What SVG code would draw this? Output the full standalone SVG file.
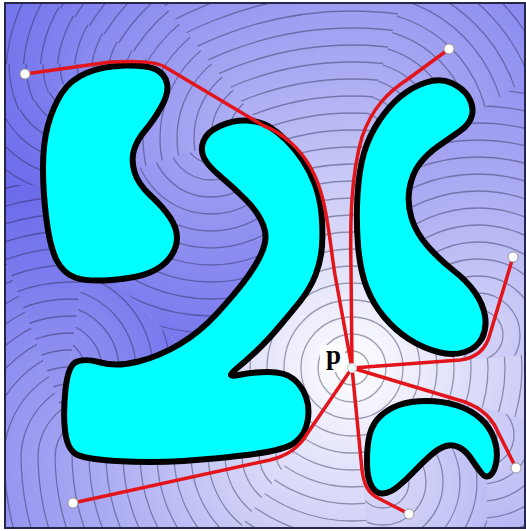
<svg xmlns="http://www.w3.org/2000/svg" width="526" height="531" viewBox="0 0 526 531">
<style>
.ct circle{fill:none;stroke:#24244a;stroke-opacity:.42;stroke-width:1.3}
.ob{fill:#00ffff;stroke:#000;stroke-width:6;stroke-linejoin:round}
.rd{fill:none;stroke:#e3151b;stroke-width:3.5;stroke-linecap:round;stroke-linejoin:round}
.ep{fill:#fff;stroke:#9a9a9a;stroke-width:1}
.lbl{font-family:"Liberation Serif","Times New Roman",serif;font-weight:bold;font-size:27px;fill:#000}
</style>
<defs>
<clipPath id="pic"><rect x="5" y="3" width="520" height="525"/></clipPath>
<clipPath id="cA"><path d="M263,128 L160,0 L46,0 L158,66 L140,90 L125,172 L205,148 Z"/></clipPath>
<clipPath id="cTk"><path d="M46,0 L158,66 L140,64 L0,64 L0,0 Z"/></clipPath>
<clipPath id="cK1"><path d="M0,64 L102,64 L60,86 L0,121 Z"/></clipPath>
<clipPath id="cK3"><path d="M0,121 L60,86 L44,140 L44,185 L0,185 Z"/></clipPath>
<clipPath id="cKn"><path d="M205,148 L125,172 L110,270 L122,290 L140,305 L163,330 L180,345 L195,365 L215,345 L250,300 L280,250 L270,170 L230,140 Z"/></clipPath>
<clipPath id="cFLa"><path d="M0,458 L90,457 L70,440 L63,413 L0,246 Z"/></clipPath>
<clipPath id="cFLb"><path d="M0,246 L63,413 L70,364 L82,280 L44,185 L0,185 Z"/></clipPath>
<clipPath id="cFLc"><path d="M82,280 L70,364 L120,378 L195,365 L180,345 L163,330 L140,305 L122,290 L110,270 Z"/></clipPath>
<clipPath id="cF1"><path d="M307,434 L238,531 L0,531 L0,458 L90,457 L200,452 L285,445 Z"/></clipPath>
<clipPath id="cCm"><path d="M365,125 L402,0 L526,0 L526,80 L462,122 L420,100 Z"/></clipPath>
<clipPath id="cCb"><path d="M460,360 L526,355 L526,80 L462,122 L420,140 L400,190 L405,230 L440,270 L478,300 L475,345 Z"/></clipPath>
<clipPath id="cBr"><path d="M455,399 L526,420 L526,531 L487,531 L487,478 L485,440 Z"/></clipPath>
<clipPath id="cBl"><path d="M362,470 L368,531 L487,531 L487,478 L450,440 L400,470 Z"/></clipPath>
<radialGradient id="gP" gradientUnits="userSpaceOnUse" cx="352" cy="368" r="700"><stop offset="0" stop-color="#ffffff"/><stop offset=".057" stop-color="#f4f4fd"/><stop offset=".143" stop-color="#e2e2fa"/><stop offset=".286" stop-color="#c6c6f6"/><stop offset=".429" stop-color="#aaaaf3"/><stop offset=".571" stop-color="#9494f1"/><stop offset=".714" stop-color="#7c7cee"/><stop offset=".857" stop-color="#6a6aeb"/><stop offset="1" stop-color="#6060e8"/></radialGradient>
<radialGradient id="gA" gradientUnits="userSpaceOnUse" cx="274" cy="138" r="457"><stop offset="0" stop-color="#babaf5"/><stop offset=".125" stop-color="#aaaaf3"/><stop offset=".344" stop-color="#9494f1"/><stop offset=".562" stop-color="#7c7cee"/><stop offset=".781" stop-color="#6a6aeb"/><stop offset="1" stop-color="#6060e8"/></radialGradient>
<radialGradient id="gTk" gradientUnits="userSpaceOnUse" cx="175" cy="76" r="342"><stop offset="0" stop-color="#9d9df2"/><stop offset=".123" stop-color="#9494f1"/><stop offset=".415" stop-color="#7c7cee"/><stop offset=".708" stop-color="#6a6aeb"/><stop offset="1" stop-color="#6060e8"/></radialGradient>
<radialGradient id="gK1" gradientUnits="userSpaceOnUse" cx="120" cy="64" r="284"><stop offset="0" stop-color="#9090f0"/><stop offset=".296" stop-color="#7c7cee"/><stop offset=".648" stop-color="#6a6aeb"/><stop offset="1" stop-color="#6060e8"/></radialGradient>
<radialGradient id="gK3" gradientUnits="userSpaceOnUse" cx="77" cy="78" r="238"><stop offset="0" stop-color="#8585ef"/><stop offset=".16" stop-color="#7c7cee"/><stop offset=".58" stop-color="#6a6aeb"/><stop offset="1" stop-color="#6060e8"/></radialGradient>
<radialGradient id="gKn" gradientUnits="userSpaceOnUse" cx="211" cy="137" r="386"><stop offset="0" stop-color="#a7a7f3"/><stop offset=".223" stop-color="#9494f1"/><stop offset=".482" stop-color="#7c7cee"/><stop offset=".741" stop-color="#6a6aeb"/><stop offset="1" stop-color="#6060e8"/></radialGradient>
<radialGradient id="gFLa" gradientUnits="userSpaceOnUse" cx="100" cy="458" r="405"><stop offset="0" stop-color="#ababf3"/><stop offset=".012" stop-color="#aaaaf3"/><stop offset=".259" stop-color="#9494f1"/><stop offset=".506" stop-color="#7c7cee"/><stop offset=".753" stop-color="#6a6aeb"/><stop offset="1" stop-color="#6060e8"/></radialGradient>
<radialGradient id="gFLb" gradientUnits="userSpaceOnUse" cx="70" cy="432" r="357"><stop offset="0" stop-color="#a0a0f2"/><stop offset=".16" stop-color="#9494f1"/><stop offset=".44" stop-color="#7c7cee"/><stop offset=".72" stop-color="#6a6aeb"/><stop offset="1" stop-color="#6060e8"/></radialGradient>
<radialGradient id="gFLc" gradientUnits="userSpaceOnUse" cx="54" cy="370" r="306"><stop offset="0" stop-color="#9595f1"/><stop offset=".02" stop-color="#9494f1"/><stop offset=".346" stop-color="#7c7cee"/><stop offset=".673" stop-color="#6a6aeb"/><stop offset="1" stop-color="#6060e8"/></radialGradient>
<radialGradient id="gF1" gradientUnits="userSpaceOnUse" cx="300" cy="454" r="605"><stop offset="0" stop-color="#e3e3fa"/><stop offset=".008" stop-color="#e2e2fa"/><stop offset=".174" stop-color="#c6c6f6"/><stop offset=".339" stop-color="#aaaaf3"/><stop offset=".504" stop-color="#9494f1"/><stop offset=".669" stop-color="#7c7cee"/><stop offset=".835" stop-color="#6a6aeb"/><stop offset="1" stop-color="#6060e8"/></radialGradient>
<radialGradient id="gCm" gradientUnits="userSpaceOnUse" cx="361" cy="139" r="471"><stop offset="0" stop-color="#bebef5"/><stop offset=".151" stop-color="#aaaaf3"/><stop offset=".363" stop-color="#9494f1"/><stop offset=".575" stop-color="#7c7cee"/><stop offset=".788" stop-color="#6a6aeb"/><stop offset="1" stop-color="#6060e8"/></radialGradient>
<radialGradient id="gCb" gradientUnits="userSpaceOnUse" cx="478" cy="335" r="555"><stop offset="0" stop-color="#d5d5f8"/><stop offset=".099" stop-color="#c6c6f6"/><stop offset=".279" stop-color="#aaaaf3"/><stop offset=".459" stop-color="#9494f1"/><stop offset=".64" stop-color="#7c7cee"/><stop offset=".82" stop-color="#6a6aeb"/><stop offset="1" stop-color="#6060e8"/></radialGradient>
<radialGradient id="gBr" gradientUnits="userSpaceOnUse" cx="482" cy="435" r="545"><stop offset="0" stop-color="#d3d3f8"/><stop offset=".083" stop-color="#c6c6f6"/><stop offset=".266" stop-color="#aaaaf3"/><stop offset=".45" stop-color="#9494f1"/><stop offset=".633" stop-color="#7c7cee"/><stop offset=".817" stop-color="#6a6aeb"/><stop offset="1" stop-color="#6060e8"/></radialGradient>
<radialGradient id="gBl" gradientUnits="userSpaceOnUse" cx="383" cy="482" r="573"><stop offset="0" stop-color="#dadaf9"/><stop offset=".127" stop-color="#c6c6f6"/><stop offset=".302" stop-color="#aaaaf3"/><stop offset=".476" stop-color="#9494f1"/><stop offset=".651" stop-color="#7c7cee"/><stop offset=".825" stop-color="#6a6aeb"/><stop offset="1" stop-color="#6060e8"/></radialGradient>
</defs>
<rect width="526" height="531" fill="#ffffff"/>
<g id="field" clip-path="url(#pic)">
<rect width="526" height="531" fill="url(#gP)"/>
<g class="ct" transform="translate(352,368)"><circle r="17"/><circle r="34"/><circle r="51"/><circle r="68"/><circle r="85"/><circle r="102"/><circle r="119"/><circle r="136"/><circle r="153"/><circle r="170"/><circle r="187"/><circle r="204"/><circle r="221"/><circle r="238"/><circle r="255"/><circle r="272"/><circle r="289"/><circle r="306"/><circle r="323"/><circle r="340"/><circle r="357"/><circle r="374"/><circle r="391"/><circle r="408"/><circle r="425"/><circle r="442"/></g>
<g clip-path="url(#cA)"><rect width="526" height="531" fill="url(#gA)"/><g class="ct" transform="translate(274,138)"><circle r="12"/><circle r="29"/><circle r="46"/><circle r="63"/><circle r="80"/><circle r="97"/><circle r="114"/><circle r="131"/><circle r="148"/><circle r="165"/><circle r="182"/><circle r="199"/><circle r="216"/><circle r="233"/><circle r="250"/><circle r="267"/><circle r="284"/></g></g>
<g clip-path="url(#cTk)"><rect width="526" height="531" fill="url(#gTk)"/><g class="ct" transform="translate(175,76)"><circle r="16"/><circle r="33"/><circle r="50"/><circle r="67"/><circle r="84"/><circle r="101"/><circle r="118"/><circle r="135"/><circle r="152"/><circle r="169"/><circle r="186"/><circle r="203"/></g></g>
<g clip-path="url(#cK1)"><rect width="526" height="531" fill="url(#gK1)"/><g class="ct" transform="translate(120,64)"><circle r="9"/><circle r="26"/><circle r="43"/><circle r="60"/><circle r="77"/><circle r="94"/><circle r="111"/><circle r="128"/><circle r="145"/></g></g>
<g clip-path="url(#cK3)"><rect width="526" height="531" fill="url(#gK3)"/><g class="ct" transform="translate(77,78)"><circle r="14"/><circle r="31"/><circle r="48"/><circle r="65"/><circle r="82"/><circle r="99"/><circle r="116"/><circle r="133"/><circle r="150"/></g></g>
<g clip-path="url(#cKn)"><rect width="526" height="531" fill="url(#gKn)"/><g class="ct" transform="translate(211,137)"><circle r="9"/><circle r="26"/><circle r="43"/><circle r="60"/><circle r="77"/><circle r="94"/><circle r="111"/><circle r="128"/><circle r="145"/><circle r="162"/><circle r="179"/><circle r="196"/><circle r="213"/><circle r="230"/></g></g>
<g clip-path="url(#cFLa)"><rect width="526" height="531" fill="url(#gFLa)"/><g class="ct" transform="translate(100,458)"><circle r="11"/><circle r="28"/><circle r="45"/><circle r="62"/><circle r="79"/><circle r="96"/><circle r="113"/><circle r="130"/><circle r="147"/><circle r="164"/><circle r="181"/><circle r="198"/><circle r="215"/><circle r="232"/></g></g>
<g clip-path="url(#cFLb)"><rect width="526" height="531" fill="url(#gFLb)"/><g class="ct" transform="translate(70,432)"><circle r="14"/><circle r="31"/><circle r="48"/><circle r="65"/><circle r="82"/><circle r="99"/><circle r="116"/><circle r="133"/><circle r="150"/><circle r="167"/><circle r="184"/><circle r="201"/><circle r="218"/><circle r="235"/><circle r="252"/><circle r="269"/></g></g>
<g clip-path="url(#cFLc)"><rect width="526" height="531" fill="url(#gFLc)"/><g class="ct" transform="translate(54,370)"><circle r="14"/><circle r="31"/><circle r="48"/><circle r="65"/><circle r="82"/><circle r="99"/><circle r="116"/><circle r="133"/><circle r="150"/><circle r="167"/><circle r="184"/></g></g>
<g clip-path="url(#cF1)"><rect width="526" height="531" fill="url(#gF1)"/><g class="ct" transform="translate(300,454)"><circle r="7"/><circle r="24"/><circle r="41"/><circle r="58"/><circle r="75"/><circle r="92"/><circle r="109"/><circle r="126"/><circle r="143"/><circle r="160"/><circle r="177"/><circle r="194"/><circle r="211"/><circle r="228"/><circle r="245"/><circle r="262"/><circle r="279"/><circle r="296"/><circle r="313"/><circle r="330"/></g></g>
<g clip-path="url(#cCm)"><rect width="526" height="531" fill="url(#gCm)"/><g class="ct" transform="translate(361,139)"><circle r="9"/><circle r="26"/><circle r="43"/><circle r="60"/><circle r="77"/><circle r="94"/><circle r="111"/><circle r="128"/><circle r="145"/><circle r="162"/><circle r="179"/><circle r="196"/><circle r="213"/><circle r="230"/></g></g>
<g clip-path="url(#cCb)"><rect width="526" height="531" fill="url(#gCb)"/><g class="ct" transform="translate(478,335)"><circle r="8"/><circle r="25"/><circle r="42"/><circle r="59"/><circle r="76"/><circle r="93"/><circle r="110"/><circle r="127"/><circle r="144"/><circle r="161"/><circle r="178"/><circle r="195"/><circle r="212"/><circle r="229"/><circle r="246"/><circle r="263"/></g></g>
<g clip-path="url(#cBr)"><rect width="526" height="531" fill="url(#gBr)"/><g class="ct" transform="translate(482,435)"><circle r="15"/><circle r="32"/><circle r="49"/><circle r="66"/><circle r="83"/><circle r="100"/><circle r="117"/><circle r="134"/></g></g>
<g clip-path="url(#cBl)"><rect width="526" height="531" fill="url(#gBl)"/><g class="ct" transform="translate(383,482)"><circle r="9"/><circle r="26"/><circle r="43"/><circle r="60"/><circle r="77"/><circle r="94"/><circle r="111"/><circle r="128"/><circle r="145"/></g></g>
</g>
<g id="obstacles">
<g id="kidney"><path class="ob" d="M125,65.5 Q147,65 156,69.5 Q165,74 167,83.5 Q169,93 161.5,106.5 Q154,120 145.5,130 Q137,140 134,150 Q131,160 134.5,172 Q138,184 150.5,195.5 Q163,207 170,217.5 Q177,228 177,238 Q177,248 170,257.5 Q163,267 150,272.5 Q137,278 112,280 Q87,282 75,277.5 Q63,273 56.5,260 Q50,247 46.5,220 Q43,193 43,168 Q43,143 48,125 Q53,107 61.5,93.5 Q70,80 86.5,73 Q103,66 125,65.5 Z"/></g>
<g id="s-shape"><path class="ob" d="M204,158 Q200,150 203.5,141 Q207,132 220,126 Q233,120 246.5,120.5 Q260,121 269,126.5 Q278,132 286.5,140.5 Q295,149 302.5,160 Q310,171 315,184.5 Q320,198 321.5,214 Q323,230 322,245.5 Q321,261 315.5,275 Q310,289 300,301.5 Q290,314 278.5,327.5 Q267,341 256.5,351 Q246,361 235.5,369.5 Q225,378 238.5,375 Q252,372 268.5,372 Q285,372 293.5,379 Q302,386 306,397 Q310,408 307.5,421.5 Q305,435 295,442.5 Q285,450 251,454.5 Q217,459 183.5,461 Q150,463 116.5,461 Q83,459 75,453.5 Q67,448 65,430.5 Q63,413 65.5,389.5 Q68,366 76,362 Q84,358 100.5,362.5 Q117,367 138.5,361.5 Q160,356 180,344 Q200,332 216.5,314 Q233,296 243,283 Q253,270 259,258.5 Q265,247 265.5,238.5 Q266,230 261,220 Q256,210 244.5,198.5 Q233,187 220.5,176.5 Q208,166 204,158 Z"/></g>
<g id="c-shape"><path class="ob" d="M426,82.5 Q440,78 451.5,83 Q463,88 468.5,97 Q474,106 472,115 Q470,124 460,131 Q450,138 438.5,146 Q427,154 419.5,164 Q412,174 409.5,188.5 Q407,203 411.5,218 Q416,233 428,246.5 Q440,260 453.5,270.5 Q467,281 475,292.5 Q483,304 485,316 Q487,328 482,338 Q477,348 465,352 Q453,356 438,352 Q423,348 409.5,339.5 Q396,331 384.5,317.5 Q373,304 366.5,287 Q360,270 358,245 Q356,220 357.5,195 Q359,170 364,153 Q369,136 379,121 Q389,106 400.5,96.5 Q412,87 426,82.5 Z"/></g>
<g id="hook"><path class="ob" d="M370,433.5 Q373,423 380.5,416 Q388,409 399,405 Q410,401 426.5,401 Q443,401 457,405.5 Q471,410 480.5,418.5 Q490,427 494,438.5 Q498,450 496.5,460.5 Q495,471 490.5,475 Q486,479 481,472.5 Q476,466 471,458.5 Q466,451 459.5,447.5 Q453,444 446,446 Q439,448 430.5,455.5 Q422,463 414,471.5 Q406,480 398,486.5 Q390,493 383,493.5 Q376,494 371.5,486 Q367,478 367,461 Q367,444 370,433.5 Z"/></g>
</g>
<g id="connectors">
<path class="rd" d="M352,368 L335,275 C331,250 329,225 323,200 C317,175 305,155 290,142 C280,133 272,129 264,126 L165,67 C155,61 135,61 110,62 L25,74"/>
<path class="rd" d="M352,368 L351,268 C350,220 351,175 362,137 C372,108 388,92 408,79 L449,49"/>
<path class="rd" d="M352,368 L460,360 C476,358 486,350 490,334 L513,257"/>
<path class="rd" d="M352,368 L455,399 C475,404 490,414 497,430 L516,468"/>
<path class="rd" d="M352,368 L362,470 C364,485 368,492 376,497 L409,514"/>
<path class="rd" d="M352,368 L307,434 C300,446 290,455 270,460 L73,503"/>
</g>
<g id="nodes">
<g id="n1"><circle class="ep" cx="25" cy="74" r="5"/></g>
<g id="n2"><circle class="ep" cx="449" cy="49" r="5"/></g>
<g id="n3"><circle class="ep" cx="513" cy="257" r="5"/></g>
<g id="n4"><circle class="ep" cx="516" cy="468" r="5"/></g>
<g id="n5"><circle class="ep" cx="409" cy="514" r="5"/></g>
<g id="n6"><circle class="ep" cx="73" cy="503" r="5"/></g>
<g id="p"><circle cx="352" cy="368" r="4.5" fill="#eaffff" stroke="#c8c8c8" stroke-width="1"/><rect x="320" y="345" width="25" height="27" fill="#ffffff"/><text class="lbl" x="326" y="364">p</text></g>
</g>
<rect x="5" y="3" width="520" height="525" fill="none" stroke="#26264a" stroke-width="2"/>
</svg>
